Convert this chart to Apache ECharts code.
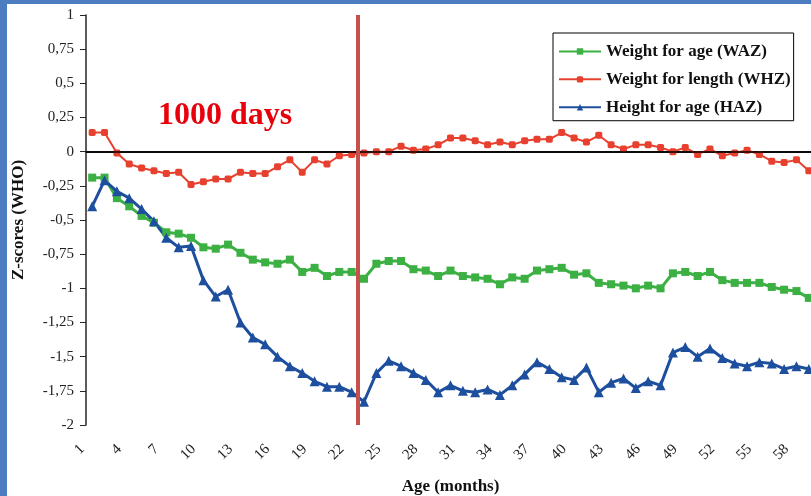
<!DOCTYPE html>
<html>
<head>
    <title>Z-scores by age</title>
    <script src="https://cdn.jsdelivr.net/npm/echarts@6.0.0/dist/echarts.min.js"></script>
    <style>
        body { margin: 0; background: #fff; }
        #marco {
            width: 811px;
            height: 496px;
            box-sizing: border-box;
            border-left: 7px solid #4b7dc0;
            border-top: 4px solid #4b7dc0;
            background: #fff;
        }
        #grafico { width: 804px; height: 492px; }
    </style>
</head>
<body>
    <div id="marco"><div id="grafico"></div></div>

    <script>
        // Meses de edad (1..59)
        const meses = [];
        for (let m = 1; m <= 59; m++) meses.push(String(m));

        // Weight for age (WAZ)
        const waz = [
            -0.19, -0.19, -0.34, -0.40, -0.47, -0.52, -0.59, -0.60, -0.63, -0.70,
            -0.71, -0.68, -0.74, -0.79, -0.81, -0.82, -0.79, -0.88, -0.85, -0.91,
            -0.88, -0.88, -0.93, -0.82, -0.80, -0.80, -0.86, -0.87, -0.91, -0.87,
            -0.91, -0.92, -0.93, -0.97, -0.92, -0.93, -0.87, -0.86, -0.85, -0.90,
            -0.89, -0.96, -0.97, -0.98, -1.00, -0.98, -1.00, -0.89, -0.88, -0.91,
            -0.88, -0.94, -0.96, -0.96, -0.96, -0.99, -1.01, -1.02, -1.07
        ];

        // Weight for length (WHZ)
        const whz = [
            0.14, 0.14, -0.01, -0.09, -0.12, -0.14, -0.16, -0.15, -0.24, -0.22,
            -0.20, -0.20, -0.15, -0.16, -0.16, -0.11, -0.06, -0.15, -0.06, -0.09,
            -0.03, -0.02, -0.01, 0.00, 0.00, 0.04, 0.01, 0.02, 0.05, 0.10,
            0.10, 0.08, 0.05, 0.07, 0.05, 0.08, 0.09, 0.09, 0.14, 0.10,
            0.07, 0.12, 0.05, 0.02, 0.05, 0.05, 0.03, 0.00, 0.03, -0.02,
            0.02, -0.03, -0.01, 0.01, -0.02, -0.07, -0.08, -0.06, -0.14
        ];

        // Height for age (HAZ)
        const haz = [
            -0.40, -0.21, -0.29, -0.34, -0.42, -0.51, -0.63, -0.70, -0.69, -0.94,
            -1.06, -1.01, -1.25, -1.36, -1.41, -1.50, -1.57, -1.62, -1.68, -1.72,
            -1.72, -1.76, -1.83, -1.62, -1.53, -1.57, -1.62, -1.67, -1.76, -1.71,
            -1.75, -1.76, -1.74, -1.78, -1.71, -1.63, -1.54, -1.59, -1.65, -1.67,
            -1.58, -1.76, -1.69, -1.66, -1.73, -1.68, -1.71, -1.47, -1.43, -1.50,
            -1.44, -1.51, -1.55, -1.57, -1.54, -1.55, -1.59, -1.57, -1.59
        ];

        // Linea de los 1000 dias (posicion en meses)
        const mil_dias = 22.5;

        const fuente = 'Liberation Serif';
        const grafico = echarts.init(document.getElementById('grafico'));

        const opciones = {
            animation: false,
            textStyle: { fontFamily: fuente },
            grid: { left: 79, top: 11, width: 729, height: 410, outerBoundsMode: 'none', containLabel: false },
            legend: {
                orient: 'vertical',
                left: 546,
                top: 29,
                data: ['Weight for age (WAZ)', 'Weight for length (WHZ)', 'Height for age (HAZ)'],
                backgroundColor: '#fff',
                borderColor: '#000',
                borderWidth: 1,
                padding: [5, 3, 0, 5],
                itemWidth: 42,
                itemHeight: 8,
                itemGap: 1,
                textStyle: { fontFamily: fuente, fontSize: 17, fontWeight: 'bold', color: '#111', lineHeight: 19 }
            },
            xAxis: [{
                type: 'category',
                data: meses,
                boundaryGap: true,
                name: 'Age (months)',
                nameLocation: 'middle',
                nameGap: 48,
                nameTextStyle: { fontFamily: fuente, fontSize: 17, fontWeight: 'bold', color: '#111' },
                axisLine: { lineStyle: { color: '#2b2522', width: 2 } },
                axisTick: { show: false },
                axisLabel: {
                    interval: 2,
                    rotate: 45,
                    margin: 12,
                    padding: [0, 14, 0, 0],
                    fontFamily: fuente,
                    fontSize: 15,
                    color: '#222'
                }
            }, {
                type: 'value',
                min: 0.5,
                max: 59.5,
                show: false
            }],
            yAxis: {
                type: 'value',
                min: -2,
                max: 1,
                interval: 0.25,
                name: 'Z-scores (WHO)',
                nameLocation: 'middle',
                nameRotate: 90,
                nameGap: 53,
                nameTextStyle: { fontFamily: fuente, fontSize: 17, fontWeight: 'bold', color: '#111' },
                axisLine: { show: true, lineStyle: { color: '#2b2522', width: 1.5 } },
                axisTick: { show: true, inside: false, length: 6, lineStyle: { color: '#2b2522' } },
                splitLine: { show: false },
                axisLabel: {
                    margin: 12,
                    fontFamily: fuente,
                    fontSize: 15,
                    color: '#222',
                    formatter: v => String(v).replace('.', ',')
                }
            },
            graphic: [{
                type: 'text',
                left: 151,
                top: 86,
                style: {
                    text: '1000 days',
                    fill: '#e8000b',
                    font: 'bold 32px "Liberation Serif"'
                }
            }],
            series: [
                {
                    // linea del cero
                    type: 'line',
                    xAxisIndex: 1,
                    data: [],
                    z: 1,
                    silent: true,
                    markLine: {
                        symbol: 'none',
                        silent: true,
                        label: { show: false },
                        lineStyle: { color: '#000', width: 1.5, type: 'solid' },
                        data: [{ yAxis: 0 }]
                    }
                },
                {
                    name: 'Weight for age (WAZ)',
                    type: 'line',
                    data: waz,
                    z: 2,
                    color: '#3cb043',
                    symbol: 'rect',
                    symbolSize: 8,
                    showAllSymbol: true,
                    lineStyle: { width: 3 }
                },
                {
                    name: 'Weight for length (WHZ)',
                    type: 'line',
                    data: whz,
                    z: 2,
                    color: '#e8402f',
                    symbol: 'roundRect',
                    symbolSize: 7,
                    showAllSymbol: true,
                    lineStyle: { width: 2 }
                },
                {
                    name: 'Height for age (HAZ)',
                    type: 'line',
                    data: haz,
                    z: 2,
                    color: '#1d4f9e',
                    symbol: 'triangle',
                    symbolSize: 10,
                    showAllSymbol: true,
                    lineStyle: { width: 3 }
                },
                {
                    // linea vertical de los 1000 dias
                    type: 'line',
                    xAxisIndex: 1,
                    data: [],
                    z: 5,
                    silent: true,
                    markLine: {
                        symbol: 'none',
                        silent: true,
                        label: { show: false },
                        lineStyle: { color: '#c6504b', width: 4, type: 'solid' },
                        data: [{ xAxis: mil_dias }]
                    }
                }
            ]
        };

        grafico.setOption(opciones);
    </script>
</body>
</html>
